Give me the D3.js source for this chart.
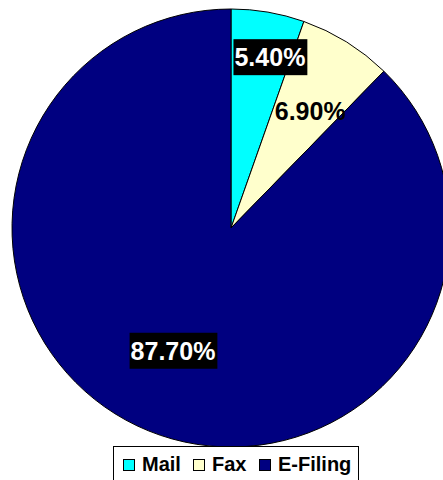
<!DOCTYPE html>
<html>
<head>
<meta charset="utf-8">
<script src="https://cdn.jsdelivr.net/npm/d3@7"></script>
<style>
  body { margin: 0; background: #fff; }
  svg { display: block; font-family: Arial, "Liberation Sans", sans-serif; }
</style>
</head>
<body>
<svg width="443" height="480"></svg>
<script>
// data
const categories = ['Mail', 'Fax', 'E-Filing'];
const shares = [5.4, 6.9, 87.7];
const labels = ['5.40%', '6.90%', '87.70%'];

const colors = ['#00ffff', '#ffffcc', '#000080'];
// label placement: distance from centre (fraction of radius), position across the slice, look
const labelDist = [0.8, 0.645, 0.62];
const labelSpan = [0.66, 0.59, 0.51];
const labelBox = [true, false, true];

const svg = d3.select('svg');
const cx = 231, cy = 228, radius = 219;

const pie = d3.pie().sort(null).value(d => d);
const arcs = pie(shares);
const arc = d3.arc().innerRadius(0).outerRadius(radius);

const g = svg.append('g').attr('transform', `translate(${cx},${cy})`);

g.selectAll('path.slice')
  .data(arcs)
  .join('path')
  .attr('class', 'slice')
  .attr('d', arc)
  .attr('fill', (d, i) => colors[i])
  .attr('stroke', '#000')
  .attr('stroke-width', 1);

// labels
arcs.forEach((d, i) => {
  const a = d.startAngle + (d.endAngle - d.startAngle) * labelSpan[i];
  const r = radius * labelDist[i];
  const x = r * Math.sin(a), y = -r * Math.cos(a);
  const lg = g.append('g').attr('transform', `translate(${x},${y})`);
  const t = lg.append('text')
    .attr('text-anchor', 'middle')
    .attr('dy', '0.36em')
    .attr('font-size', 25)
    .attr('font-weight', 'bold')
    .attr('fill', labelBox[i] ? '#fff' : '#000')
    .text(labels[i]);
  if (labelBox[i]) {
    const b = t.node().getBBox();
    lg.insert('rect', 'text')
      .attr('x', b.x - 1)
      .attr('y', -18)
      .attr('width', b.width + 3)
      .attr('height', 36)
      .attr('fill', '#000');
  }
});

// legend
const legend = svg.append('g');
legend.append('rect')
  .attr('x', 113.5).attr('y', 446.5)
  .attr('width', 245).attr('height', 40)
  .attr('fill', '#fff').attr('stroke', '#000');

const itemX = [123, 193, 259];
categories.forEach((c, i) => {
  legend.append('rect')
    .attr('x', itemX[i] + 0.5).attr('y', 459.5)
    .attr('width', 11).attr('height', 11)
    .attr('fill', colors[i]).attr('stroke', '#000');
  legend.append('text')
    .attr('x', itemX[i] + 19).attr('y', 471)
    .attr('font-size', 20)
    .attr('font-weight', 'bold')
    .text(c);
});
</script>
</body>
</html>
